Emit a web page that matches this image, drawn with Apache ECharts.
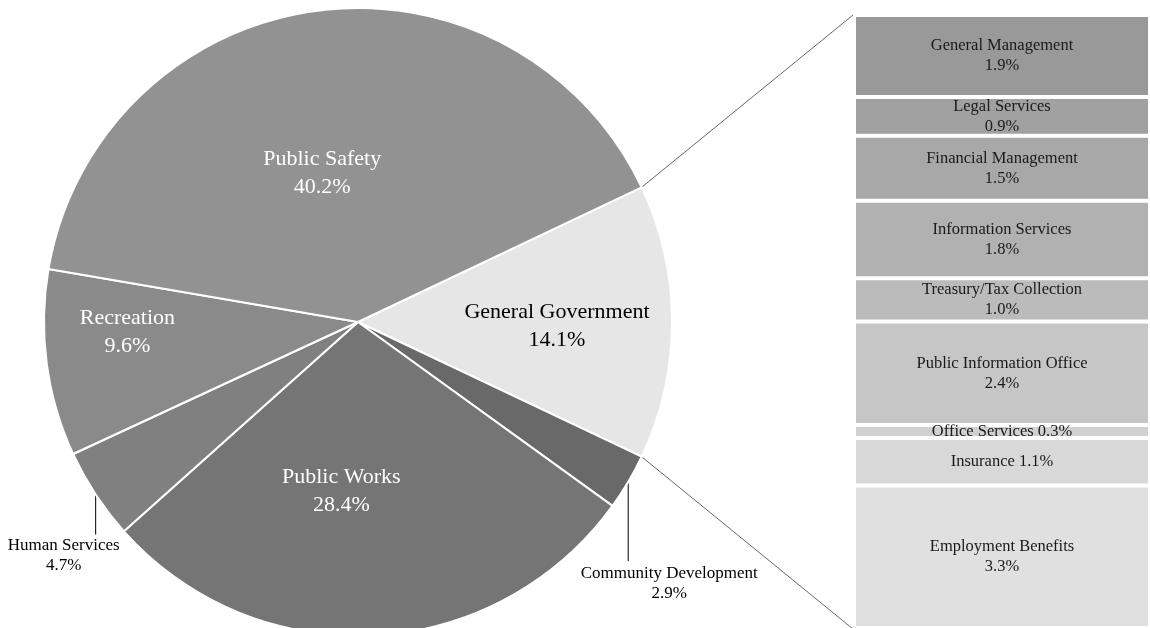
<!DOCTYPE html>
<html>
<head>
<meta charset="utf-8">
<script src="https://cdn.jsdelivr.net/npm/echarts@6/dist/echarts.min.js"></script>
<style>
html,body{margin:0;padding:0;background:#fff;}
#chart{width:1150px;height:628px;}
</style>
</head>
<body>
<div id="chart"></div>
<script>
// ---- data ----
const pieNames = ['General Government', 'Community Development', 'Public Works', 'Human Services', 'Recreation', 'Public Safety'];
const pieValues = [14.1, 2.9, 28.4, 4.7, 9.6, 40.2];
const subNames = ['General Management', 'Legal Services', 'Financial Management', 'Information Services', 'Treasury/Tax Collection', 'Public Information Office', 'Office Services', 'Insurance', 'Employment Benefits'];
const subValues = [1.9, 0.9, 1.5, 1.8, 1.0, 2.4, 0.3, 1.1, 3.3];

// ---- styles ----
const FONT = "'Liberation Serif', 'Times New Roman', serif";
const pieColors = ['#e6e6e6', '#696969', '#757575', '#808080', '#8a8a8a', '#929292'];
const subColors = ['#999999', '#a1a1a1', '#a8a8a8', '#b1b1b1', '#bbbbbb', '#c6c6c6', '#d1d1d1', '#d8d8d8', '#e0e0e0'];
const W = 1150, H = 628;
const CX = 358, CY = 322, R = 314;
const BAR_LEFT = 854, BAR_TOP = 15, BAR_BOTTOM = -1;
const singleLine = new Set(['Office Services', 'Insurance']);
const insideNudge = {
  'General Government': [39, 4],
  'Public Works': [-25, 9],
  'Recreation': [-72, -11],
  'Public Safety': [-14, 10]
};
const outsideStyle = {
  'Human Services': {shift: -32, drop: 40, gap: 1},
  'Community Development': {shift: 41, drop: 79, gap: 3}
};
const insideColor = {
  'General Government': '#000',
  'Public Works': '#fff',
  'Recreation': '#fff',
  'Public Safety': '#fff'
};

const pieTotal = pieValues.reduce((a, b) => a + b, 0);
const subTotal = subValues.reduce((a, b) => a + b, 0);
const halfGG = pieValues[0] / pieTotal * 360 / 2;

const pieData = pieNames.map((n, i) => {
  const item = {name: n, value: pieValues[i], itemStyle: {color: pieColors[i]}};
  if (outsideStyle[n]) {
    item.label = {position: 'outside', color: '#000', fontSize: 17, lineHeight: 20};
    item.labelLine = {show: true, length: 10, length2: 0, lineStyle: {color: '#000', width: 1}};
  } else {
    item.label = {position: 'inside', color: insideColor[n], fontSize: 22, lineHeight: 28};
  }
  return item;
});

const series = [{
  type: 'pie',
  center: [CX, CY],
  radius: [0, R],
  startAngle: halfGG,
  clockwise: true,
  silent: true,
  animation: false,
  avoidLabelOverlap: false,
  data: pieData,
  itemStyle: {borderColor: '#fff', borderWidth: 2},
  label: {
    show: true,
    fontFamily: FONT,
    align: 'center',
    formatter: p => p.name + '\n' + p.value.toFixed(1) + '%'
  },
  labelLine: {show: false},
  labelLayout: function (params) {
    const name = pieNames[params.dataIndex];
    if (outsideStyle[name]) {
      const s = outsideStyle[name];
      const p0 = params.labelLinePoints ? params.labelLinePoints[0] : [params.labelRect.x, params.labelRect.y];
      return {
        x: p0[0] + s.shift,
        y: p0[1] + s.drop + s.gap,
        align: 'center',
        verticalAlign: 'top',
        labelLinePoints: [[p0[0], p0[1]], [p0[0], p0[1] + s.drop]]
      };
    }
    const d = insideNudge[name] || [0, 0];
    return {dx: d[0], dy: d[1]};
  }
}];

subNames.forEach((n, i) => {
  series.push({
    type: 'bar',
    name: n,
    stack: 'gg',
    barWidth: '100%',
    silent: true,
    animation: false,
    data: [subValues[i]],
    itemStyle: {color: subColors[i], borderColor: '#fff', borderWidth: 2},
    label: {
      show: true,
      position: 'inside',
      fontFamily: FONT,
      fontSize: 16.5,
      lineHeight: 20,
      color: '#1a1a1a',
      formatter: () => singleLine.has(n) ? n + ' ' + subValues[i].toFixed(1) + '%' : n + '\n' + subValues[i].toFixed(1) + '%'
    }
  });
});

// connector lines from the General Government slice edges to the bar's corners
const a = halfGG * Math.PI / 180;
const pTop = [CX + R * Math.cos(a), CY - R * Math.sin(a)];
const pBot = [CX + R * Math.cos(a), CY + R * Math.sin(a)];
const barTopY = BAR_TOP, barBotY = H - BAR_BOTTOM;

const chart = echarts.init(document.getElementById('chart'), null, {renderer: 'canvas'});
chart.setOption({
  backgroundColor: '#fff',
  animation: false,
  grid: {left: BAR_LEFT, right: -1, top: BAR_TOP, bottom: BAR_BOTTOM},
  xAxis: {type: 'category', data: ['General Government'], show: false, boundaryGap: true},
  yAxis: {type: 'value', min: 0, max: subTotal, inverse: true, show: false},
  series: series,
  graphic: [
    {type: 'line', silent: true, shape: {x1: pTop[0], y1: pTop[1], x2: BAR_LEFT - 1, y2: barTopY}, style: {stroke: '#404040', lineWidth: 0.8}},
    {type: 'line', silent: true, shape: {x1: pBot[0], y1: pBot[1], x2: BAR_LEFT - 1, y2: barBotY}, style: {stroke: '#404040', lineWidth: 0.8}}
  ]
});
</script>
</body>
</html>
